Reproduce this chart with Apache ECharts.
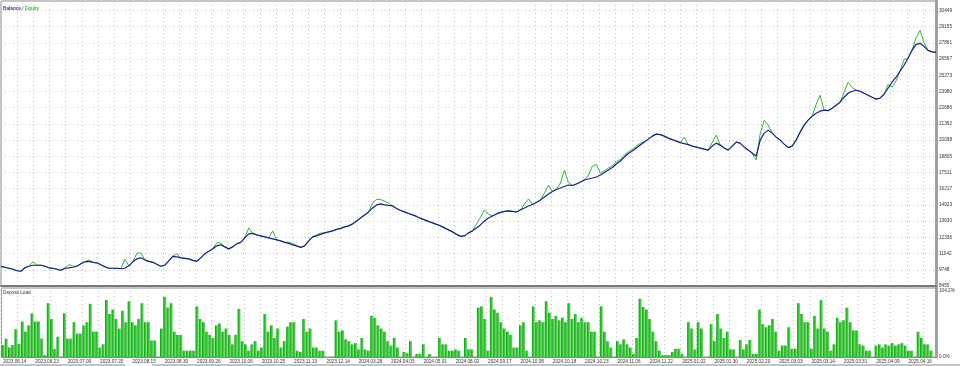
<!DOCTYPE html>
<html>
<head>
<meta charset="utf-8">
<script src="https://cdn.jsdelivr.net/npm/echarts@6/dist/echarts.min.js"></script>
<style>
html,body{margin:0;padding:0;background:#fff;}
#c{width:960px;height:366px;}
</style>
</head>
<body>
<div id="c"></div>
<script>
// ---- data ----
const dateLabels = ['2023.06.14','2023.06.23','2023.07.09','2023.07.20','2023.08.15','2023.08.30','2023.09.26','2023.10.06','2023.10.25','2023.11.13','2023.12.14','2024.03.28','2024.04.05','2024.05.01','2024.08.02','2024.09.17','2024.10.08','2024.10.18','2024.10.23','2024.11.06','2024.11.22','2025.01.02','2025.01.30','2025.02.20','2025.03.03','2025.03.14','2025.03.31','2025.04.09','2025.04.16'];
const yTicks = [8455,9748,11042,12336,13630,14923,16217,17511,18805,20098,21392,22686,23980,25273,26567,27861,29155,30449];
const loadTicks = [0, 104.2];

const balance = [
10020,9950,9870,9790,9670,9630,9907,10030,10110,10110,
10110,10030,9907,9870,9790,9710,9870,9907,9950,10030,
10226,10385,10425,10345,10305,10146,9987,9870,9870,9870,
9830,9870,10066,10385,10624,10703,10544,10425,10345,10186,
10030,10110,10465,10820,10783,10703,10664,10624,10504,10425,
10703,11022,11220,11420,11659,11740,11580,11420,11580,11818,
11940,12296,12614,12650,12535,12455,12375,12296,12216,12137,
12057,11940,11860,11740,11659,11540,11659,12057,12375,12455,
12575,12694,12774,12853,12973,13052,13172,13251,13411,13650,
13888,14127,14366,14684,14923,15003,14923,14883,14844,14645,
14485,14366,14246,14127,14008,13848,13729,13610,13490,13371,
13251,13092,12933,12774,12575,12415,12455,12694,12853,13092,
13331,13650,13888,14048,14207,14326,14406,14445,14406,14366,
14525,14684,14844,14963,15122,15321,15560,15799,15999,16158,
16277,16397,16516,16476,16596,16755,16914,16994,17073,17153,
17312,17511,17710,17909,18188,18427,18745,19024,19223,19461,
19700,19939,20178,20417,20576,20536,20417,20258,20138,20019,
19899,19820,19740,19620,19541,19461,19381,19302,19620,19859,
19700,19461,19302,19620,19939,19859,19541,19302,19063,18824,
20099,20656,20895,20656,20337,20099,19780,19501,19620,20099,
20735,21293,21691,22009,22248,22407,22487,22447,22646,22885,
23124,23522,23840,24000,24080,24000,23840,23682,23522,23363,
23443,23761,24239,24717,25115,25593,26070,26627,27264,27742,
27821,27582,27264,27144,27105
];

const equity = [
10020,9950,9870,9790,9670,9630,9907,10030,10390,10110,
10110,10030,9907,9870,9790,9710,9870,10157,10050,10030,
10226,10385,10545,10345,10305,10146,9987,9870,9870,9870,
9830,10590,10066,10385,11064,11103,10544,10425,10345,10186,
10030,10110,10465,10820,11033,10703,10664,10624,10504,10425,
10703,11022,11220,11420,11899,11890,11580,11420,11580,11818,
11940,12296,13094,12650,12535,12455,12375,12296,12856,12137,
12057,11940,11960,11840,11659,11540,11659,12057,12375,12555,
12675,12694,12774,12853,12973,13052,13172,13251,13411,13650,
13888,14127,14366,15084,15373,15353,15223,15083,14844,14645,
14485,14366,14246,14127,14008,13848,13729,13610,13490,13371,
13251,13092,12933,12774,12575,12415,12455,12694,12853,13392,
13931,14520,14188,14048,14207,14326,14406,14445,14406,14366,
14525,14984,15404,14963,15122,15321,15860,16499,15999,16158,
16677,17697,16716,16476,16596,16755,16914,17294,18023,18153,
17462,17661,17860,18059,18338,18577,18895,19174,19373,19611,
19850,19939,20178,20417,20576,20536,20417,20258,20138,20019,
19899,20320,19740,19620,19541,19461,19381,19302,19920,20499,
19700,19461,19302,19620,19939,19859,19541,19302,19063,18504,
20599,21686,21295,20656,20337,20099,19780,19501,19620,20099,
20735,21293,21691,22009,22948,23677,22487,22447,22646,22885,
23124,23922,24720,24300,24080,24000,23840,23682,23522,23363,
23443,23761,24539,24317,24815,25593,26540,26627,27264,28242,
28861,27882,27264,27144,27105
];

const depositLoad = [
19,29,15,19,44,21,56,40,50,69,56,56,29,3,85,60,13,32,0,69,
29,29,55,37,37,50,55,84,40,40,15,20,90,68,75,60,45,73,55,88,
55,50,60,85,55,55,26,26,0,45,95,78,85,40,35,35,10,10,10,10,
80,60,55,40,35,30,50,53,40,45,35,20,35,76,25,20,10,20,25,10,
15,68,40,50,30,45,15,25,48,55,55,10,8,60,40,45,15,15,10,
10,0,0,0,58,40,42,28,25,20,22,12,30,12,10,65,62,50,45,40,
25,18,30,15,0,8,6,25,0,5,5,20,0,5,0,0,30,20,20,10,
10,12,10,0,30,12,12,0,78,80,60,10,95,75,70,55,45,40,35,15,
15,50,55,10,0,80,55,58,55,88,70,60,65,58,62,55,85,60,68,55,
62,55,55,40,40,0,80,40,25,15,0,25,20,28,20,15,5,30,92,79,
75,60,40,25,10,3,3,3,8,13,13,5,0,55,45,12,55,45,0,0,
52,25,68,45,30,40,12,12,0,27,12,20,27,5,5,75,52,47,50,60,
40,10,18,18,47,13,13,85,68,55,55,13,65,45,90,45,40,10,20,62,
55,58,78,55,42,42,20,18,10,10,0,18,20,15,20,18,22,18,20,22,
18,10,10,0,40,30,20,20,10,0
];

const topIdx = balance.map((_, i) => String(i + 1));
const barIdx = depositLoad.map((_, i) => String(i + 1));

// ---- chart ----
const FONT = 'Liberation Sans';
const FS = 4.7;
const chart = echarts.init(document.getElementById('c'), null, {renderer: 'canvas'});
const yInterval = (yTicks[yTicks.length - 1] - yTicks[0]) / (yTicks.length - 1) + 0.0001;
const nearest = (arr, v) => arr.reduce((a, b) => Math.abs(b - v) < Math.abs(a - v) ? b : a);
const dotted = {show: true, lineStyle: {color: '#c4c4c4', type: [1, 3], width: 1}};

chart.setOption({
  animation: false,
  backgroundColor: '#ffffff',
  textStyle: {fontFamily: FONT},
  title: [
    {text: '{b|Balance}{s| / }{e|Equity}', left: 3, top: 6, padding: 0,
     textStyle: {fontSize: FS, fontFamily: FONT, rich: {
       b: {color: '#3a3aa8', fontSize: FS, fontFamily: FONT},
       s: {color: '#777', fontSize: FS, fontFamily: FONT},
       e: {color: '#3cbc3c', fontSize: FS, fontFamily: FONT}}}},
    {text: 'Deposit Load', left: 3, top: 290, padding: 0,
     textStyle: {fontSize: FS, color: '#333', fontWeight: 'normal', fontFamily: FONT}}
  ],
  grid: [
    {left: 1, right: 24, top: 1, height: 285, show: true, borderColor: '#8a8a8a', borderWidth: 1},
    {left: 1, right: 24, top: 288, height: 69, show: true, borderColor: '#8a8a8a', borderWidth: 1}
  ],
  xAxis: [
    {gridIndex: 0, type: 'category', data: topIdx, boundaryGap: false,
     axisLabel: {show: false}, axisTick: {show: false}, splitLine: {show: false},
     axisLine: {show: true, lineStyle: {color: '#7a7a7a', width: 2}}},
    {gridIndex: 0, type: 'category', data: barIdx, boundaryGap: true,
     axisLabel: {show: false}, axisTick: {show: false}, axisLine: {show: false},
     splitLine: Object.assign({interval: 4}, dotted)},
    {gridIndex: 1, type: 'category', data: barIdx, boundaryGap: true,
     axisTick: {show: false},
     axisLine: {show: true, lineStyle: {color: '#8a8a8a', width: 1}},
     splitLine: Object.assign({interval: 4}, dotted),
     axisLabel: {interval: 9, fontSize: FS, color: '#333', margin: 2, align: 'left',
       fontFamily: FONT,
       formatter: (v, idx) => dateLabels[Math.round(idx / 10)] || ''}}
  ],
  yAxis: [
    {gridIndex: 0, type: 'value', position: 'right', min: yTicks[0], max: 31200,
     interval: yInterval,
     axisLine: {show: true, lineStyle: {color: '#a0a0a0', width: 3}},
     axisTick: {show: false},
     splitLine: dotted,
     axisLabel: {fontSize: FS, color: '#333', margin: 3, showMaxLabel: false, fontFamily: FONT,
       formatter: v => String(nearest(yTicks, v))}},
    {gridIndex: 1, type: 'value', position: 'right', min: 0, max: 109,
     interval: loadTicks[1],
     axisLine: {show: true, lineStyle: {color: '#a0a0a0', width: 3}},
     axisTick: {show: false},
     splitLine: {show: false},
     axisLabel: {fontSize: FS, color: '#333', margin: 3, showMaxLabel: false, fontFamily: FONT,
       formatter: v => nearest(loadTicks, v).toFixed(1) + '%'}}
  ],
  graphic: [
    {type: 'line', shape: {x1: 0, y1: 365, x2: 125, y2: 365}, style: {stroke: '#888', lineWidth: 1}},
    {type: 'line', shape: {x1: 152, y1: 365, x2: 960, y2: 365}, style: {stroke: '#888', lineWidth: 1}}
  ],
  series: [
    {name: 'Equity', type: 'line', xAxisIndex: 0, yAxisIndex: 0, data: equity,
     symbol: 'none', z: 2, lineStyle: {color: '#2fb82f', width: 1}},
    {name: 'Balance', type: 'line', xAxisIndex: 0, yAxisIndex: 0, data: balance,
     symbol: 'none', z: 3, lineStyle: {color: '#1c1c96', width: 1.2}},
    {name: 'Deposit Load', type: 'bar', xAxisIndex: 2, yAxisIndex: 1, data: depositLoad,
     barCategoryGap: '8%',
     itemStyle: {color: new echarts.graphic.LinearGradient(0, 0, 1, 0, [
       {offset: 0, color: '#119a11'}, {offset: 0.5, color: '#2fc82f'}, {offset: 1, color: '#6ddc6d'}])}}
  ]
});
</script>
</body>
</html>
